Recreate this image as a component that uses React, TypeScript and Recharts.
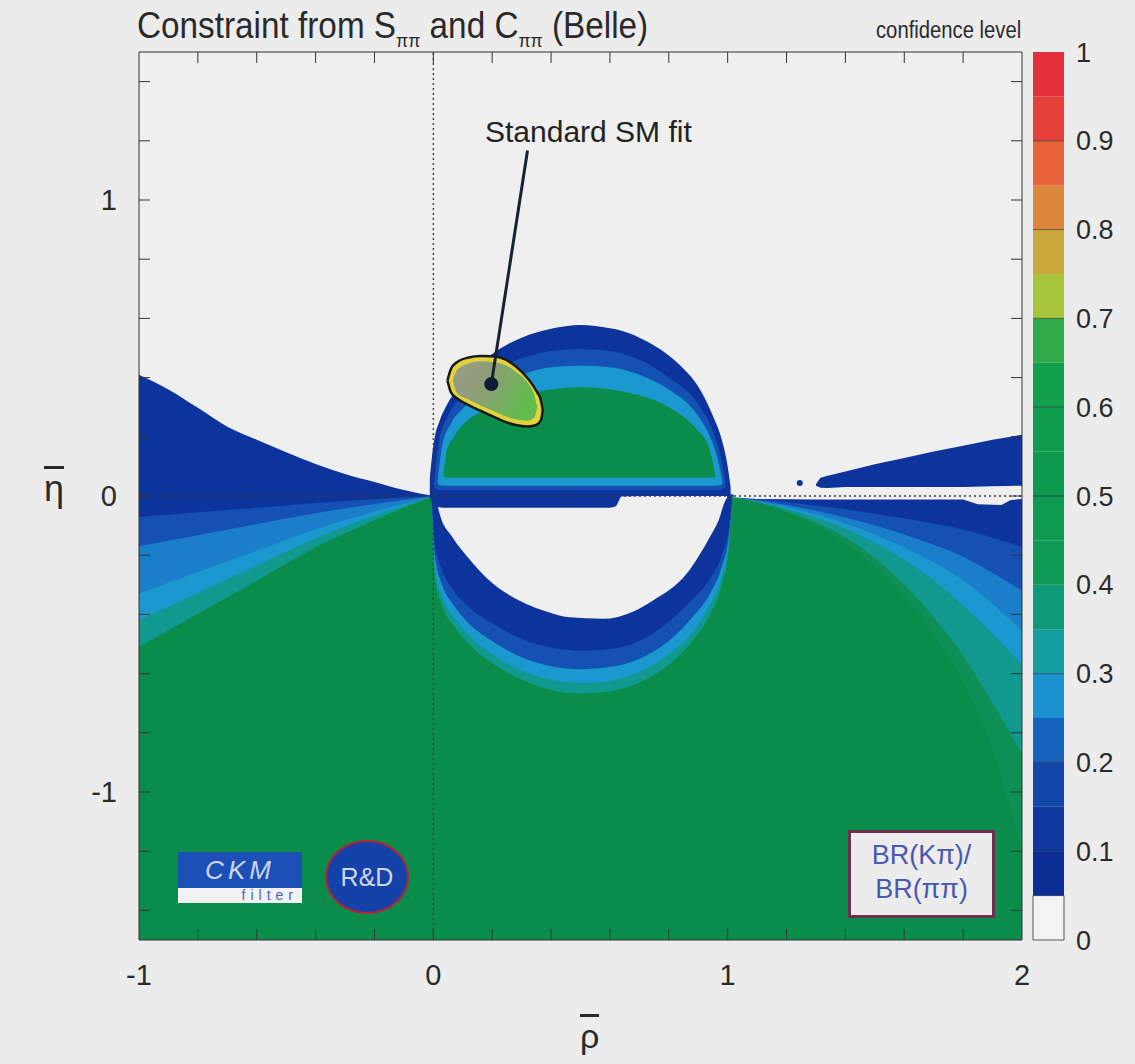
import React from "react";
import {
  ComposedChart,
  Area,
  Scatter,
  XAxis,
  YAxis,
  ReferenceLine,
  ReferenceDot,
  BarChart,
  Bar,
} from "recharts";

// axes
const X_LABEL_TICKS = [-1, 0, 1, 2];
const X_MINOR_TICKS = [-0.8, -0.6, -0.4, -0.2, 0, 0.2, 0.4, 0.6, 0.8, 1, 1.2, 1.4, 1.6, 1.8];
const Y_LABEL_TICKS = [-1, 0, 1];
const Y_MINOR_TICKS = [-1.4, -1.2, -1, -0.8, -0.6, -0.4, -0.2, 0, 0.2, 0.4, 0.6, 0.8, 1, 1.2, 1.4];

// colour bar
const CL_LEVELS = [0, 0.05, 0.1, 0.15, 0.2, 0.25, 0.3, 0.35, 0.4, 0.45, 0.5, 0.55, 0.6, 0.65, 0.7, 0.75, 0.8, 0.85, 0.9, 0.95, 1];
const CL_COLORS = [
  "#f3f3f3", "#0d2c94", "#0f389f", "#1346aa", "#1762bc", "#1a92cf", "#139f9f", "#0f9a78",
  "#0e9a55", "#0e9a50", "#0e9a4e", "#0f9c4c", "#12a04c", "#30ab48", "#a6c43c", "#c9a93c",
  "#dc873c", "#e8623a", "#e6403a", "#e2313b",
];
const CL_TICKS = [0, 0.1, 0.2, 0.3, 0.4, 0.5, 0.6, 0.7, 0.8, 0.9, 1];
const CL_LINES = [0.1, 0.2, 0.3, 0.5, 0.6, 0.7, 0.8, 0.9];

// map colours
const C_GREEN = "#0a8c4a";
const C_DARK = "#0c349c";
const C_MED = "#1550b3";
const C_LIGHT = "#1b7ecb";
const C_CYAN = "#1b98cf";
const C_TEAL = "#12998f";
const C_TEALGREEN = "#0d8f56";
const C_BG = "#efefef";

// green lower half-plane
const BASE_X = [-1, 2];
const BASE_LOW = [-1.5, -1.5];
const BASE_TOP = [0, 0];

// left fan (from origin)
const LEFT_TOP_X = [-1, -0.9, -0.8, -0.7, -0.6, -0.5, -0.4, -0.3, -0.2, -0.1, 0];
const LEFT_TOP_ETA = [0.41, 0.36, 0.298, 0.234, 0.19, 0.148, 0.108, 0.074, 0.047, 0.02, 0];
const LEFT_DARK_LOW = [-0.07, -0.063, -0.055, -0.047, -0.04, -0.032, -0.024, -0.017, -0.011, -0.005, 0];
const LEFT_FAN_X = [-1, -0.8, -0.6, -0.4, -0.2, 0];
const LEFT_FAN_TOP = [0, 0, 0, 0, 0, 0];
const LEFT_MED_LOW = [-0.17, -0.133, -0.095, -0.058, -0.027, 0];
const LEFT_LIGHT_LOW = [-0.33, -0.257, -0.185, -0.112, -0.053, 0];
const LEFT_CYAN_LOW = [-0.42, -0.328, -0.235, -0.143, -0.067, 0];
const LEFT_TEAL_LOW = [-0.51, -0.398, -0.286, -0.173, -0.082, 0];

// right fan (from rho=1)
const RIGHT_FAN_X = [1.0, 1.1, 1.2, 1.3, 1.4, 1.5, 1.6, 1.7, 1.8, 1.9, 2.0];
const RIGHT_FAN_TOP = [0.005, 0, 0, 0, 0, 0, 0, 0, 0, 0, 0];
const RIGHT_DARK_LOW = [0, -0.01, -0.02, -0.032, -0.045, -0.06, -0.075, -0.093, -0.113, -0.14, -0.173];
const RIGHT_MED_LOW = [0, -0.015, -0.03, -0.05, -0.073, -0.1, -0.13, -0.165, -0.205, -0.26, -0.32];
const RIGHT_LIGHT_LOW = [0, -0.017, -0.037, -0.062, -0.093, -0.13, -0.175, -0.225, -0.285, -0.365, -0.456];
const RIGHT_CYAN_LOW = [0, -0.019, -0.043, -0.073, -0.11, -0.158, -0.215, -0.285, -0.37, -0.465, -0.57];
const RIGHT_TEAL_LOW = [0, -0.02, -0.05, -0.09, -0.14, -0.21, -0.3, -0.41, -0.54, -0.7, -0.87];
const RIGHT_TEALGREEN_LOW = [0, -0.022, -0.056, -0.1, -0.16, -0.24, -0.34, -0.47, -0.63, -0.86, -1.2];

// white gap along eta=0 on the right, and the thin wedge above it
const GAP_X = [1.02, 1.1, 1.3, 1.6, 1.8, 1.85, 1.93, 1.96, 2.0];
const GAP_LOW = [-0.004, -0.01, -0.012, -0.012, -0.012, -0.028, -0.03, -0.014, -0.01];
const GAP_TOP = [0.01, 0.025, 0.03, 0.028, 0.03, 0.03, 0.032, 0.035, 0.035];
const WEDGE_X = [1.3, 1.315, 1.34, 1.4, 1.5, 1.6, 1.7, 1.8, 1.9, 2.0];
const WEDGE_TOP = [0.04, 0.062, 0.068, 0.083, 0.107, 0.128, 0.15, 0.17, 0.19, 0.207];
const WEDGE_LOW = [0.035, 0.028, 0.027, 0.03, 0.03, 0.03, 0.03, 0.03, 0.033, 0.035];

// crescent under the hole
const CRES_X = [-0.005, 0.005, 0.03, 0.07, 0.12, 0.2, 0.3, 0.4, 0.5, 0.6, 0.7, 0.8, 0.88, 0.94, 0.98, 1.005, 1.015];
const CRES_TOP = [0, 0, 0, 0, 0, 0, 0, 0, 0, 0, 0, 0, 0, 0, 0, 0, 0];
const CRES_DARK_LOW = [-0.01, -0.16, -0.25, -0.32, -0.375, -0.43, -0.483, -0.512, -0.523, -0.517, -0.49, -0.425, -0.35, -0.28, -0.2, -0.11, -0.01];
const CRES_MED_LOW = [-0.01, -0.2, -0.3, -0.37, -0.43, -0.49, -0.545, -0.575, -0.585, -0.578, -0.55, -0.49, -0.41, -0.33, -0.24, -0.13, -0.01];
const CRES_CYAN_LOW = [-0.01, -0.24, -0.34, -0.41, -0.47, -0.535, -0.59, -0.62, -0.632, -0.625, -0.595, -0.535, -0.46, -0.37, -0.27, -0.15, -0.01];
const CRES_TEAL_LOW = [-0.01, -0.27, -0.37, -0.44, -0.5, -0.565, -0.62, -0.655, -0.667, -0.66, -0.63, -0.57, -0.49, -0.4, -0.3, -0.17, -0.01];

// empty hole
const HOLE_X = [0.01, 0.02, 0.065, 0.12, 0.18, 0.293, 0.4, 0.463, 0.575, 0.68, 0.745, 0.861, 0.939, 0.97, 0.99, 0.998];
const HOLE_LOW = [-0.01, -0.055, -0.139, -0.21, -0.276, -0.354, -0.395, -0.41, -0.415, -0.39, -0.354, -0.262, -0.139, -0.08, -0.02, -0.005];
const HOLE_TOP = [0, 0, 0, 0, 0, 0, 0, 0, 0, 0, 0, 0, 0, 0, 0, 0];

// dome above the hole
const DOME_X = [-0.012, -0.005, 0.005, 0.02, 0.05, 0.1, 0.15, 0.2, 0.3, 0.4, 0.5, 0.6, 0.62, 0.64, 0.7, 0.8, 0.85, 0.9, 0.95, 0.98, 1.0, 1.01];
const DOME_TOP = [0.06, 0.13, 0.2, 0.25, 0.315, 0.38, 0.44, 0.48, 0.535, 0.565, 0.578, 0.567, 0.563, 0.558, 0.535, 0.475, 0.43, 0.37, 0.27, 0.19, 0.1, 0.03];
const DOME_LOW = [0.0, -0.02, -0.03, -0.038, -0.04, -0.04, -0.04, -0.04, -0.04, -0.04, -0.04, -0.04, -0.035, -0.002, 0.0, 0.0, 0.0, 0.0, 0.0, 0.0, 0.0, 0.0];
const DOME_MED_X = [0.003, 0.02, 0.05, 0.1, 0.2, 0.3, 0.4, 0.5, 0.6, 0.7, 0.8, 0.9, 0.95, 0.975, 0.992];
const DOME_MED_TOP = [0.05, 0.19, 0.27, 0.34, 0.42, 0.465, 0.49, 0.497, 0.49, 0.46, 0.4, 0.31, 0.22, 0.14, 0.05];
const DOME_MED_LOW = [0.03, 0.02, 0.02, 0.02, 0.02, 0.02, 0.02, 0.02, 0.02, 0.02, 0.02, 0.02, 0.02, 0.02, 0.03];
const DOME_LIGHT_X = [0.015, 0.03, 0.06, 0.1, 0.2, 0.3, 0.4, 0.5, 0.6, 0.7, 0.8, 0.9, 0.94, 0.965, 0.982];
const DOME_LIGHT_TOP = [0.05, 0.17, 0.245, 0.295, 0.365, 0.41, 0.435, 0.44, 0.435, 0.41, 0.36, 0.27, 0.2, 0.13, 0.05];
const DOME_LIGHT_LOW = [0.04, 0.035, 0.035, 0.035, 0.035, 0.035, 0.035, 0.035, 0.035, 0.035, 0.035, 0.035, 0.035, 0.035, 0.04];
const DOME_CORE_X = [0.035, 0.045, 0.07, 0.1, 0.2, 0.3, 0.4, 0.5, 0.6, 0.7, 0.8, 0.9, 0.93, 0.946, 0.958];
const DOME_CORE_TOP = [0.07, 0.15, 0.2, 0.24, 0.3, 0.34, 0.36, 0.367, 0.36, 0.34, 0.3, 0.22, 0.18, 0.13, 0.07];
const DOME_CORE_LOW = [0.065, 0.062, 0.062, 0.062, 0.062, 0.062, 0.062, 0.062, 0.062, 0.062, 0.062, 0.062, 0.062, 0.062, 0.065];

// standard SM fit contour
const SM_X = [0.048, 0.06, 0.08, 0.12, 0.16, 0.2, 0.24, 0.28, 0.32, 0.35, 0.365, 0.372];
const SM_TOP = [0.39, 0.43, 0.452, 0.468, 0.473, 0.472, 0.463, 0.438, 0.398, 0.355, 0.325, 0.29];
const SM_LOW = [0.39, 0.35, 0.33, 0.307, 0.288, 0.27, 0.252, 0.24, 0.235, 0.24, 0.255, 0.29];
const SM_IN_X = [0.066, 0.08, 0.12, 0.16, 0.2, 0.24, 0.28, 0.32, 0.342, 0.353];
const SM_IN_TOP = [0.39, 0.425, 0.448, 0.455, 0.453, 0.444, 0.42, 0.383, 0.345, 0.3];
const SM_IN_LOW = [0.39, 0.348, 0.326, 0.306, 0.289, 0.271, 0.259, 0.254, 0.264, 0.3];
const SM_POINT = { x: 0.197, y: 0.378 };
const SM_LABEL_POINT = { x: 0.32, y: 1.167 };

const SANS = '"Liberation Sans", Arial, sans-serif';

const band = (xs: number[], lo: number[], hi: number[]) =>
  xs.map((x, i) => ({ x, r: [lo[i], hi[i]] }));

const layers = [
  { id: "base", data: band(BASE_X, BASE_LOW, BASE_TOP), fill: C_GREEN, type: "linear" },
  { id: "lTeal", data: band(LEFT_FAN_X, LEFT_TEAL_LOW, LEFT_FAN_TOP), fill: C_TEAL, type: "monotone" },
  { id: "lCyan", data: band(LEFT_FAN_X, LEFT_CYAN_LOW, LEFT_FAN_TOP), fill: C_CYAN, type: "monotone" },
  { id: "lLight", data: band(LEFT_FAN_X, LEFT_LIGHT_LOW, LEFT_FAN_TOP), fill: C_LIGHT, type: "monotone" },
  { id: "lMed", data: band(LEFT_FAN_X, LEFT_MED_LOW, LEFT_FAN_TOP), fill: C_MED, type: "monotone" },
  { id: "lDark", data: band(LEFT_TOP_X, LEFT_DARK_LOW, LEFT_TOP_ETA), fill: C_DARK, type: "monotone" },
  { id: "rTg", data: band(RIGHT_FAN_X, RIGHT_TEALGREEN_LOW, RIGHT_FAN_TOP), fill: C_TEALGREEN, type: "monotone" },
  { id: "rTeal", data: band(RIGHT_FAN_X, RIGHT_TEAL_LOW, RIGHT_FAN_TOP), fill: C_TEAL, type: "monotone" },
  { id: "rCyan", data: band(RIGHT_FAN_X, RIGHT_CYAN_LOW, RIGHT_FAN_TOP), fill: C_CYAN, type: "monotone" },
  { id: "rLight", data: band(RIGHT_FAN_X, RIGHT_LIGHT_LOW, RIGHT_FAN_TOP), fill: C_LIGHT, type: "monotone" },
  { id: "rMed", data: band(RIGHT_FAN_X, RIGHT_MED_LOW, RIGHT_FAN_TOP), fill: C_MED, type: "monotone" },
  { id: "rDark", data: band(RIGHT_FAN_X, RIGHT_DARK_LOW, RIGHT_FAN_TOP), fill: C_DARK, type: "monotone" },
  { id: "cTeal", data: band(CRES_X, CRES_TEAL_LOW, CRES_TOP), fill: C_TEAL, type: "monotone" },
  { id: "cCyan", data: band(CRES_X, CRES_CYAN_LOW, CRES_TOP), fill: C_CYAN, type: "monotone" },
  { id: "cMed", data: band(CRES_X, CRES_MED_LOW, CRES_TOP), fill: C_MED, type: "monotone" },
  { id: "cDark", data: band(CRES_X, CRES_DARK_LOW, CRES_TOP), fill: C_DARK, type: "monotone" },
  { id: "hole", data: band(HOLE_X, HOLE_LOW, HOLE_TOP), fill: C_BG, type: "monotone" },
  { id: "dDark", data: band(DOME_X, DOME_LOW, DOME_TOP), fill: C_DARK, type: "monotone" },
  { id: "dMed", data: band(DOME_MED_X, DOME_MED_LOW, DOME_MED_TOP), fill: C_MED, type: "monotone" },
  { id: "dLight", data: band(DOME_LIGHT_X, DOME_LIGHT_LOW, DOME_LIGHT_TOP), fill: C_CYAN, type: "monotone" },
  { id: "dCore", data: band(DOME_CORE_X, DOME_CORE_LOW, DOME_CORE_TOP), fill: C_GREEN, type: "monotone" },
  { id: "gap", data: band(GAP_X, GAP_LOW, GAP_TOP), fill: C_BG, type: "linear" },
  { id: "wedge", data: band(WEDGE_X, WEDGE_LOW, WEDGE_TOP), fill: C_DARK, type: "linear" },
];

// tick marks: top ones anchored at their lower end, bottom ones at the frame
const topTicks = X_MINOR_TICKS.map((t) => ({ x: t, y: 1.463 }));
const bottomTicks = X_MINOR_TICKS.map((t) => ({ x: t, y: -1.5 }));

const clRow: Record<string, number | string> = { name: "cl" };
CL_COLORS.forEach((_, i) => {
  clRow["s" + i] = CL_LEVELS[i + 1] - CL_LEVELS[i];
});
const clData = [clRow];

const noLabel = () => "";

function ColorBar() {
  return (
    <BarChart
      width={135}
      height={1064}
      data={clData}
      margin={{ top: 52, right: 70, bottom: 124, left: 33 }}
      barCategoryGap={0}
    >
      <XAxis dataKey="name" type="category" hide />
      <YAxis
        orientation="right"
        type="number"
        domain={[0, 1]}
        ticks={CL_TICKS}
        width={1}
        tickLine={false}
        axisLine={false}
        tickSize={0}
        tickMargin={12}
        tick={{ fontSize: 27, fill: "#2b2b2b", fontFamily: SANS }}
      />
      {CL_COLORS.map((c, i) => (
        <Bar
          key={"s" + i}
          dataKey={"s" + i}
          stackId="cl"
          fill={c}
          stroke={i === 0 ? "#555" : "none"}
          strokeWidth={1}
          isAnimationActive={false}
        />
      ))}
      {CL_LINES.map((v) => (
        <ReferenceLine key={v} y={v} stroke="rgba(20,20,40,0.55)" strokeWidth={1} />
      ))}
    </BarChart>
  );
}

export default function App() {
  const axisCommon = {
    type: "number" as const,
    allowDataOverflow: true,
  };
  const tickAxis = {
    ...axisCommon,
    mirror: true,
    interval: 0 as const,
    tickSize: 11,
    tickFormatter: noLabel,
    stroke: "#333",
  };
  return (
    <div
      style={{
        position: "relative",
        width: 1135,
        height: 1064,
        background: "#ececec",
        overflow: "hidden",
        fontFamily: SANS,
      }}
    >
      <style>{"body{margin:0}"}</style>
      <div style={{ position: "absolute", left: 139, top: 52, width: 883, height: 888, background: C_BG }} />
      <div style={{ position: "absolute", left: 0, top: 0 }}>
        <ComposedChart width={1135} height={1064} margin={{ top: 52, right: 113, bottom: 123, left: 138 }}>
          <defs>
            <linearGradient id="smGrad" x1="0" y1="0" x2="1" y2="0.4">
              <stop offset="0%" stopColor="#9a9a88" />
              <stop offset="45%" stopColor="#8e9f78" />
              <stop offset="100%" stopColor="#62bb4c" />
            </linearGradient>
          </defs>
          <XAxis
            {...axisCommon}
            xAxisId="main"
            dataKey="x"
            domain={[-1, 2]}
            ticks={X_LABEL_TICKS}
            height={1}
            tickLine={false}
            axisLine={false}
            tickSize={0}
            tickMargin={24}
            tick={{ fontSize: 29, fill: "#2b2b2b", fontFamily: SANS }}
          />
          <YAxis
            {...axisCommon}
            yAxisId="main"
            domain={[-1.5, 1.5]}
            ticks={Y_LABEL_TICKS}
            width={1}
            tickLine={false}
            axisLine={false}
            tickSize={0}
            tickMargin={22}
            tick={{ fontSize: 29, fill: "#2b2b2b", fontFamily: SANS }}
          />
          {layers.map((l) => (
            <Area
              key={l.id}
              xAxisId="main"
              yAxisId="main"
              data={l.data}
              dataKey="r"
              type={l.type as any}
              fill={l.fill}
              fillOpacity={1}
              stroke="none"
              dot={false}
              activeDot={false}
              isAnimationActive={false}
            />
          ))}
          <Area
            xAxisId="main"
            yAxisId="main"
            data={band(SM_X, SM_LOW, SM_TOP)}
            dataKey="r"
            type="monotone"
            fill="#e2d23e"
            fillOpacity={1}
            stroke="#1a1a1a"
            strokeWidth={2.5}
            dot={false}
            activeDot={false}
            isAnimationActive={false}
          />
          <Area
            xAxisId="main"
            yAxisId="main"
            data={band(SM_IN_X, SM_IN_LOW, SM_IN_TOP)}
            dataKey="r"
            type="monotone"
            fill="url(#smGrad)"
            fillOpacity={1}
            stroke="none"
            dot={false}
            activeDot={false}
            isAnimationActive={false}
          />
          <ReferenceLine xAxisId="main" yAxisId="main" x={0} stroke="#3a3a3a" strokeWidth={1.3} strokeDasharray="2 3" />
          <ReferenceLine xAxisId="main" yAxisId="main" y={0} stroke="#3a3a3a" strokeWidth={1.3} strokeDasharray="2 3" />
          <ReferenceDot xAxisId="main" yAxisId="main" x={1.245} y={0.044} r={3} fill={C_DARK} stroke="none" />
          <ReferenceLine
            xAxisId="main"
            yAxisId="main"
            segment={[SM_POINT, SM_LABEL_POINT]}
            stroke="#182033"
            strokeWidth={3}
          />
          <ReferenceDot xAxisId="main" yAxisId="main" x={SM_POINT.x} y={SM_POINT.y} r={7} fill="#0e1a3c" stroke="none" />
          {/* inward x ticks on top and bottom edges */}
          <Scatter
            xAxisId="main"
            yAxisId="main"
            data={topTicks}
            dataKey="y"
            isAnimationActive={false}
            shape={(p: any) => <line x1={p.cx} x2={p.cx} y1={p.cy} y2={p.cy - 11} stroke="#333" strokeWidth={1} />}
          />
          <Scatter
            xAxisId="main"
            yAxisId="main"
            data={bottomTicks}
            dataKey="y"
            isAnimationActive={false}
            shape={(p: any) => <line x1={p.cx} x2={p.cx} y1={p.cy} y2={p.cy - 11} stroke="#2a3a30" strokeWidth={1} />}
          />
          {/* inward y ticks + frame */}
          <XAxis {...tickAxis} xAxisId="bt" orientation="bottom" domain={[-1, 2]} ticks={X_LABEL_TICKS} height={1} />
          <XAxis {...tickAxis} xAxisId="tp" orientation="top" domain={[-1, 2]} ticks={X_LABEL_TICKS} height={1} />
          <YAxis {...tickAxis} yAxisId="lf" orientation="left" domain={[-1.5, 1.5]} ticks={Y_MINOR_TICKS} width={1} />
          <YAxis {...tickAxis} yAxisId="rt" orientation="right" domain={[-1.5, 1.5]} ticks={Y_MINOR_TICKS} width={1} />
        </ComposedChart>
      </div>

      <div style={{ position: "absolute", left: 1000, top: 0 }}>
        <ColorBar />
      </div>

      {/* title */}
      <div
        style={{
          position: "absolute",
          left: 137,
          top: 5,
          fontSize: 36,
          color: "#2a2a2a",
          whiteSpace: "nowrap",
          transform: "scaleX(0.925)",
          transformOrigin: "left top",
        }}
      >
        Constraint from S<span style={{ fontSize: 19, position: "relative", top: 9 }}>ππ</span> and C
        <span style={{ fontSize: 19, position: "relative", top: 9 }}>ππ</span> (Belle)
      </div>
      <div
        style={{
          position: "absolute",
          left: 876,
          top: 17,
          fontSize: 23,
          color: "#2a2a2a",
          whiteSpace: "nowrap",
          transform: "scaleX(0.88)",
          transformOrigin: "left top",
        }}
      >
        confidence level
      </div>

      {/* annotation */}
      <div style={{ position: "absolute", left: 485, top: 115, fontSize: 30, color: "#222", whiteSpace: "nowrap" }}>
        Standard SM fit
      </div>

      {/* axis titles */}
      <div style={{ position: "absolute", left: 44, top: 466, fontSize: 36, color: "#2a2a2a", lineHeight: "36px" }}>
        <span style={{ display: "inline-block", borderTop: "3px solid #2a2a2a", paddingTop: 2 }}>η</span>
      </div>
      <div style={{ position: "absolute", left: 580, top: 1014, fontSize: 34, color: "#2a2a2a", lineHeight: "34px" }}>
        <span style={{ display: "inline-block", borderTop: "3px solid #2a2a2a", paddingTop: 2 }}>ρ</span>
      </div>

      {/* CKMfitter logo */}
      <div style={{ position: "absolute", left: 178, top: 852, width: 124, height: 51 }}>
        <div style={{ height: 36, background: "#1d50b6", color: "#cdd5ee", fontStyle: "italic", fontSize: 26, letterSpacing: 4, textAlign: "center", lineHeight: "36px" }}>
          CKM
        </div>
        <div style={{ height: 15, background: "#f2f2f2", color: "#4a64b8", fontSize: 14, letterSpacing: 5, textAlign: "right", lineHeight: "15px", paddingRight: 4 }}>
          filter
        </div>
      </div>
      <div
        style={{
          position: "absolute",
          left: 325,
          top: 840,
          width: 80,
          height: 70,
          borderRadius: "50%",
          background: "#1442a8",
          border: "2px solid #b8203a",
          color: "#d0d6ea",
          fontSize: 25,
          textAlign: "center",
          lineHeight: "70px",
        }}
      >
        R&amp;D
      </div>
      <div
        style={{
          position: "absolute",
          left: 848,
          top: 830,
          width: 141,
          height: 77,
          background: "#ececec",
          border: "3px solid #6e3050",
          color: "#4a58b0",
          fontSize: 27,
          textAlign: "center",
          lineHeight: "34px",
          paddingTop: 5,
          boxSizing: "content-box",
        }}
      >
        BR(Kπ)/
        <br />
        BR(ππ)
      </div>
    </div>
  );
}
